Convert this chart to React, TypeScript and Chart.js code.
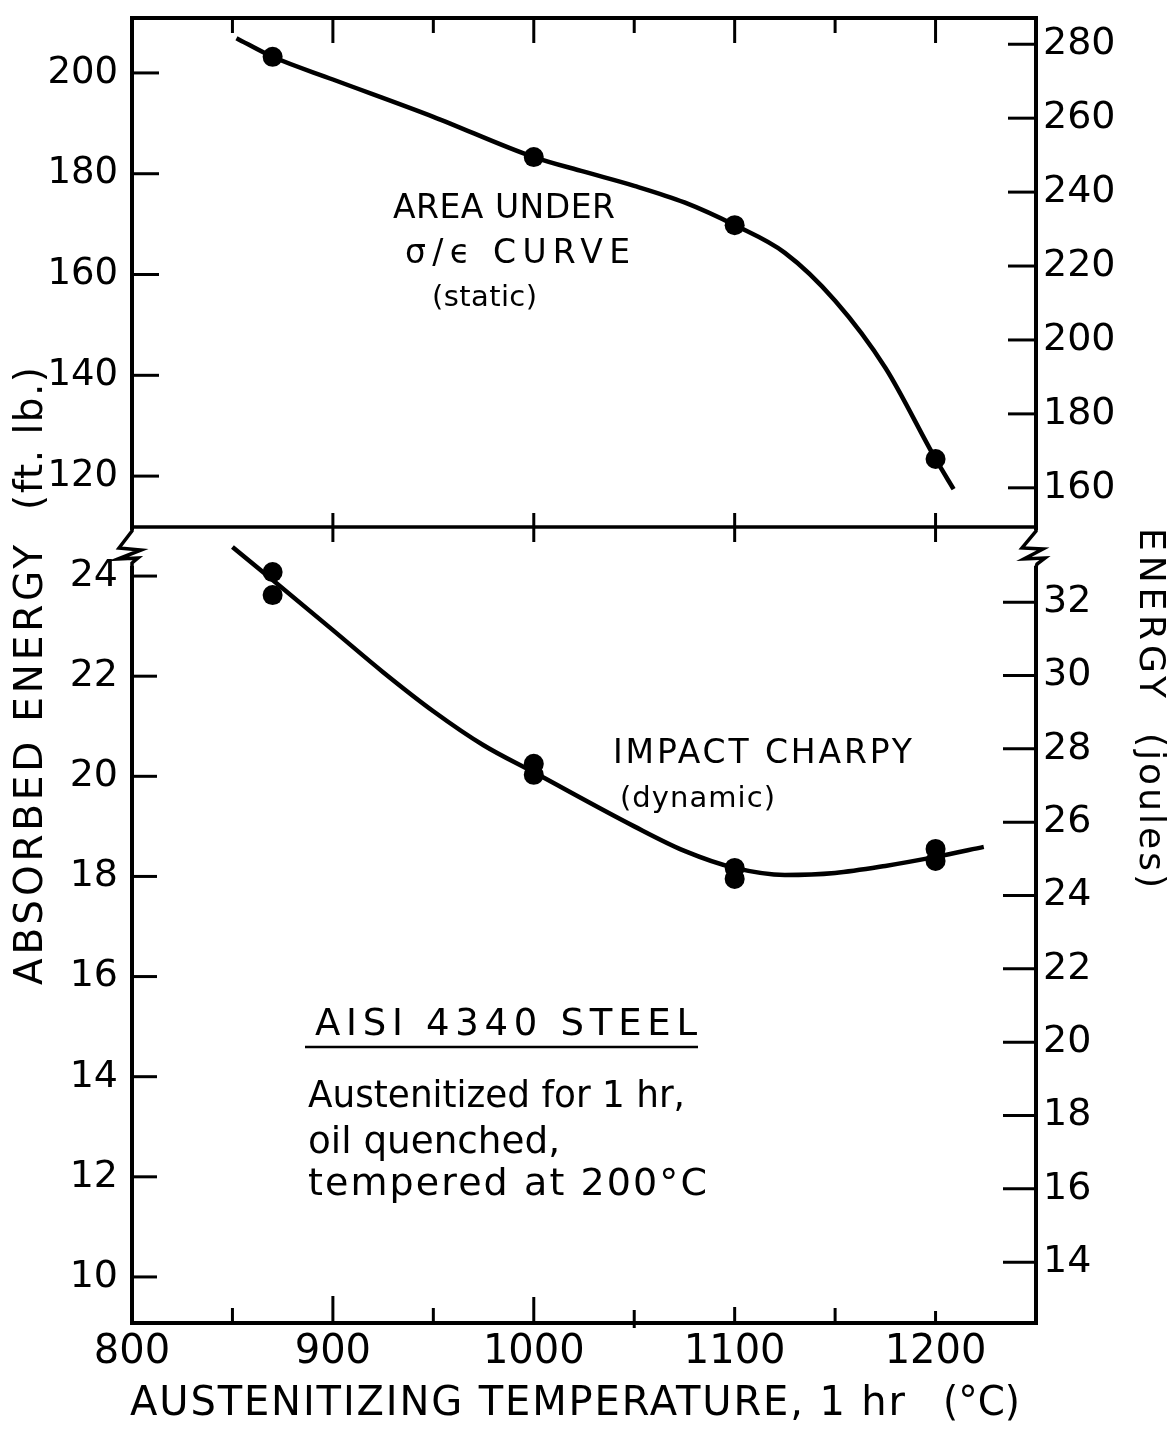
import React, { useEffect, useRef } from 'react';
import { Chart, registerables } from 'chart.js';

Chart.register(...registerables);

// ---------- data ----------
// Top panel: area under stress/strain curve (static), ft.lb.
const areaTempPts = [870, 1000, 1100, 1200];
const areaFtLbPts = [203.2, 183.3, 169.8, 123.4];
const areaCurveTemp = [852, 870, 900, 950, 1000, 1025, 1050, 1075, 1100, 1125, 1150, 1175, 1200, 1209];
const areaCurveFtLb = [206.9, 203.2, 198.7, 191.3, 183.3, 180.4, 177.6, 174.3, 169.8, 164.3, 154.8, 141.5, 123.4, 117.4];

// Bottom panel: impact Charpy (dynamic), ft.lb.
const charpyTempPts = [870, 870, 1000, 1000, 1100, 1100, 1200, 1200];
const charpyFtLbPts = [24.08, 23.62, 20.25, 20.03, 18.17, 17.95, 18.55, 18.31];
const charpyCurveTemp = [850, 870, 900, 925, 950, 975, 1000, 1050, 1075, 1100, 1125, 1150, 1175, 1200, 1224];
const charpyCurveFtLb = [24.58, 23.92, 22.92, 22.08, 21.30, 20.62, 20.08, 19.0, 18.51, 18.17, 18.03, 18.07, 18.21, 18.39, 18.59];

// Axis ranges and ticks
const xMin = 800;
const xMax = 1250;
const xTickLabels = [800, 900, 1000, 1100, 1200];
const xMajorTicks = [900, 1000, 1100, 1200];
const xMinorTicks = [850, 950, 1050, 1150];

const topFtLbRange = [109.9, 210.9];
const topFtLbTicks = [120, 140, 160, 180, 200];
const topJouleRange = [149.4, 287.1];
const topJouleTicks = [160, 180, 200, 220, 240, 260, 280];

const botFtLbRange = [9.08, 24.98];
const botFtLbTicks = [10, 12, 14, 16, 18, 20, 22, 24];
const botJouleRange = [12.34, 34.05];
const botJouleTicks = [14, 16, 18, 20, 22, 24, 26, 28, 30, 32];

const FONT = '"DejaVu Sans", "Liberation Sans", sans-serif';

function pts(xs: number[], ys: number[]) {
  return xs.map((x, i) => ({ x, y: ys[i] }));
}

function drawFit(ctx: CanvasRenderingContext2D, text: string, x: number, y: number, w: number, size: number) {
  const c = ctx as any;
  ctx.font = `${size}px ${FONT}`;
  c.letterSpacing = '0px';
  const m = ctx.measureText(text).width;
  const n = Array.from(text).length;
  if (m < w && n > 1) {
    c.letterSpacing = `${(w - m) / (n - 1)}px`;
    ctx.fillText(text, x, y);
  } else {
    ctx.fillText(text, x, y, w);
  }
  c.letterSpacing = '0px';
}

const overlayPlugin = {
  id: 'overlay',
  beforeDraw(chart: any) {
    const ctx = chart.ctx as CanvasRenderingContext2D;
    ctx.save();
    ctx.fillStyle = '#fff';
    ctx.fillRect(0, 0, chart.width, chart.height);
    ctx.restore();
  },
  afterDraw(chart: any) {
    const ctx = chart.ctx as CanvasRenderingContext2D;
    const a = chart.chartArea;
    const xs = chart.scales.x;
    const yT = chart.scales.yTop;
    const yB = chart.scales.yBot;
    const yTR = chart.scales.yTopR;
    const yBR = chart.scales.yBotR;
    const divY = yT.bottom;
    const L = a.left, R = a.right, T = a.top, B = a.bottom;

    const seg = (x1: number, y1: number, x2: number, y2: number) => {
      ctx.beginPath();
      ctx.moveTo(x1, y1);
      ctx.lineTo(x2, y2);
      ctx.stroke();
    };

    ctx.save();
    ctx.strokeStyle = '#000';
    ctx.fillStyle = '#000';
    ctx.lineCap = 'square';

    // frame and divider
    ctx.lineWidth = 4;
    ctx.strokeRect(L, T, R - L, B - T);
    ctx.lineWidth = 3.5;
    seg(L, divY, R, divY);

    // y tick marks (inward)
    ctx.lineWidth = 3;
    ctx.lineCap = 'butt';
    for (const v of topFtLbTicks) { const y = yT.getPixelForValue(v); seg(L, y, L + 27, y); }
    for (const v of botFtLbTicks) { const y = yB.getPixelForValue(v); seg(L, y, L + 25, y); }
    for (const v of topJouleTicks) { const y = yTR.getPixelForValue(v); seg(R - 28, y, R, y); }
    for (const v of botJouleTicks) { const y = yBR.getPixelForValue(v); seg(R - 33, y, R, y); }

    // x tick marks: top border (down), divider (crossing), bottom (up)
    for (const v of xMajorTicks) { const x = xs.getPixelForValue(v); seg(x, T, x, T + 25); }
    for (const v of xMinorTicks) { const x = xs.getPixelForValue(v); seg(x, T, x, T + 15); }
    for (const v of xMajorTicks) { const x = xs.getPixelForValue(v); seg(x, divY - 14, x, divY + 15); }
    const botLen: Record<number, number> = { 850: 15, 900: 27, 950: 15, 1000: 26, 1050: 13, 1100: 16, 1150: 15, 1200: 12 };
    for (const v of [...xMajorTicks, ...xMinorTicks]) {
      const x = xs.getPixelForValue(v);
      seg(x, B, x, B - botLen[v]);
    }
    { const x = xs.getPixelForValue(1050); seg(x, B, x, B + 5); }

    // axis break zig-zags just below divider
    const zig = (x0: number, p: number[][]) => {
      ctx.fillStyle = '#fff';
      ctx.fillRect(x0 - 4, divY + 3, 8, 36);
      ctx.lineWidth = 3.5;
      ctx.lineJoin = 'miter';
      ctx.beginPath();
      ctx.moveTo(x0, divY + 2);
      for (const [dx, dy] of p) ctx.lineTo(x0 + dx, divY + dy);
      ctx.lineTo(x0, divY + 40);
      ctx.stroke();
      ctx.fillStyle = '#000';
    };
    zig(L, [[0, 4], [-13, 21], [9, 23], [-14, 32], [6, 31], [0, 36]]);
    zig(R, [[0, 4], [-14, 21], [7, 22], [-12, 32], [9, 31], [1, 37]]);

    // annotation texts
    ctx.textAlign = 'left';
    ctx.textBaseline = 'alphabetic';
    drawFit(ctx, 'AREA UNDER', 393, 218, 222, 33);
    drawFit(ctx, 'σ/ϵ CURVE', 405, 263, 225, 33);
    drawFit(ctx, '(static)', 432, 306, 105, 29);
    drawFit(ctx, 'IMPACT CHARPY', 613, 763, 299, 33);
    drawFit(ctx, '(dynamic)', 620, 807, 155, 29);

    drawFit(ctx, 'AISI 4340 STEEL', 315, 1035, 382, 37);
    ctx.lineWidth = 2.5;
    seg(305, 1047, 698, 1047);
    drawFit(ctx, 'Austenitized for 1 hr,', 308, 1107, 377, 38);
    drawFit(ctx, 'oil quenched,', 308, 1153, 252, 38);
    drawFit(ctx, 'tempered at 200°C', 308, 1195, 399, 38);

    // x axis title
    drawFit(ctx, 'AUSTENITIZING TEMPERATURE, 1 hr', 130, 1415, 775, 40);
    drawFit(ctx, '(°C)', 943, 1415, 77, 40);

    // left axis title (rotated)
    ctx.save();
    ctx.translate(42, 985);
    ctx.rotate(-Math.PI / 2);
    drawFit(ctx, 'ABSORBED ENERGY', 0, 0, 440, 39);
    drawFit(ctx, '(ft. lb.)', 475, 0, 143, 39);
    ctx.restore();

    // right axis title (rotated)
    ctx.save();
    ctx.translate(1140, 528);
    ctx.rotate(Math.PI / 2);
    drawFit(ctx, 'ENERGY', 0, 0, 170, 36);
    drawFit(ctx, '(joules)', 205, 0, 155, 36);
    ctx.restore();

    ctx.restore();
  },
};

function yAxis(range: number[], ticks: number[], position: 'left' | 'right', stackWeight: number, weight: number, width: number, pad: number, size: number) {
  return {
    type: 'linear' as const,
    position,
    min: range[0],
    max: range[1],
    stack: position,
    stackWeight,
    weight,
    afterBuildTicks: (s: any) => { s.ticks = ticks.map((v) => ({ value: v })); },
    afterFit: (s: any) => { s.width = width; s.paddingTop = 0; s.paddingBottom = 0; },
    grid: { display: false, drawTicks: false },
    border: { display: false },
    ticks: {
      color: '#000',
      padding: pad,
      autoSkip: false,
      font: { family: FONT, size },
      callback: (v: any) => String(v),
    },
  };
}

export default function App() {
  const ref = useRef<HTMLCanvasElement>(null);

  useEffect(() => {
    if (!ref.current) return;
    const lineStyle = { borderColor: '#000', borderWidth: 4.5, pointRadius: 0, cubicInterpolationMode: 'monotone' as const, fill: false };
    const dotStyle = { showLine: false, pointRadius: 10, pointBackgroundColor: '#000', pointBorderColor: '#000', pointBorderWidth: 0, backgroundColor: '#000', borderColor: '#000' };
    const chart = new Chart(ref.current, {
      type: 'line',
      data: {
        datasets: [
          { label: 'Area under σ/ϵ curve (static) points', data: pts(areaTempPts, areaFtLbPts), yAxisID: 'yTop', ...dotStyle },
          { label: 'Impact Charpy (dynamic) points', data: pts(charpyTempPts, charpyFtLbPts), yAxisID: 'yBot', ...dotStyle },
          { label: 'Area under σ/ϵ curve (static)', data: pts(areaCurveTemp, areaCurveFtLb), yAxisID: 'yTop', ...lineStyle },
          { label: 'Impact Charpy (dynamic)', data: pts(charpyCurveTemp, charpyCurveFtLb), yAxisID: 'yBot', ...lineStyle },
        ],
      },
      options: {
        responsive: false,
        maintainAspectRatio: false,
        animation: false,
        devicePixelRatio: 1,
        layout: { padding: { top: 18, left: 0, right: 0, bottom: 0 } },
        plugins: { legend: { display: false }, tooltip: { enabled: false } },
        scales: {
          x: {
            type: 'linear',
            position: 'bottom',
            min: xMin,
            max: xMax,
            afterBuildTicks: (s: any) => { s.ticks = xTickLabels.map((v) => ({ value: v })); },
            afterFit: (s: any) => { s.height = 110; s.paddingLeft = 0; s.paddingRight = 0; },
            grid: { display: false, drawTicks: false },
            border: { display: false },
            ticks: {
              color: '#000',
              padding: 6,
              maxRotation: 0,
              autoSkip: false,
              font: { family: FONT, size: 40 },
              callback: (v: any) => String(v),
            },
          },
          yTop: yAxis(topFtLbRange, topFtLbTicks, 'left', 509, 2, 132, 14, 37),
          yBot: yAxis(botFtLbRange, botFtLbTicks, 'left', 796, 1, 132, 14, 38),
          yTopR: yAxis(topJouleRange, topJouleTicks, 'right', 509, 1, 139, 7, 38),
          yBotR: yAxis(botJouleRange, botJouleTicks, 'right', 796, 2, 139, 7, 38),
        },
      } as any,
      plugins: [overlayPlugin],
    });
    return () => chart.destroy();
  }, []);

  return (
    <div style={{ position: 'absolute', left: 0, top: 0, width: 1175, height: 1433, background: '#fff' }}>
      <canvas ref={ref} width={1175} height={1433} style={{ display: 'block', width: 1175, height: 1433 }} />
    </div>
  );
}
